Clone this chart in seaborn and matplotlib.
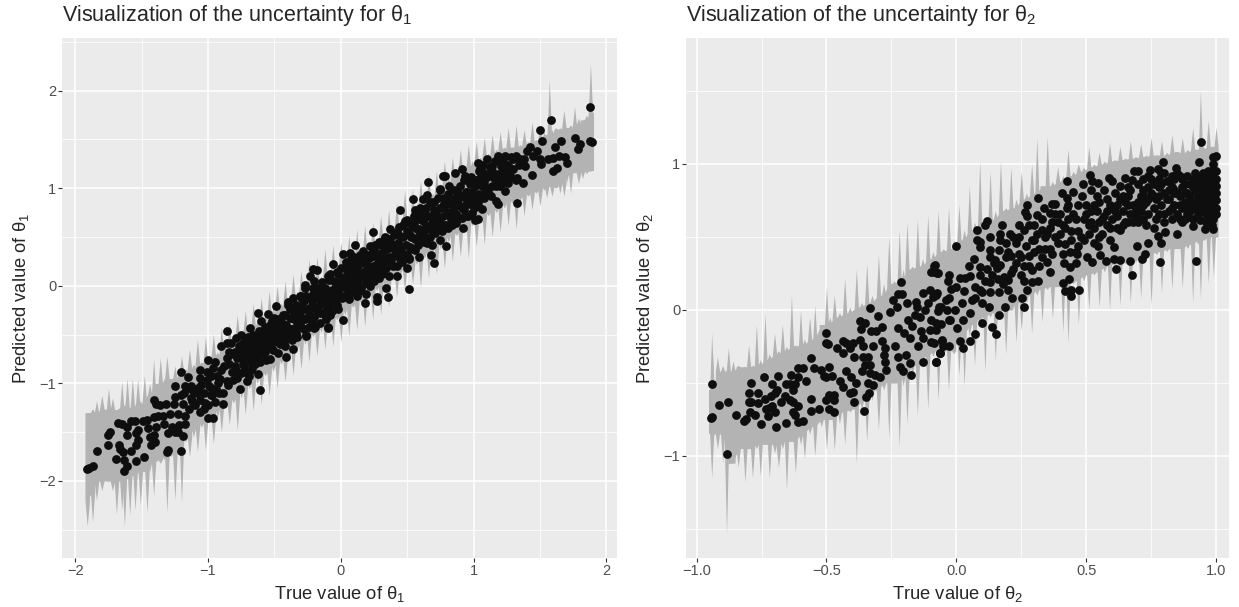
import matplotlib
matplotlib.use("Agg")
import matplotlib.pyplot as plt
import pandas as pd
import seaborn as sns
from matplotlib.ticker import FixedLocator

# ribbon rows for theta 1: true value, lower, upper
t1_ribbon = [
    (-1.91, -2.46, -1.30), (-1.87, -2.42, -1.26), (-1.84, -2.20, -1.18), (-1.80, -2.10, -1.12), (-1.75, -2.00, -1.05),
    (-1.72, -2.10, -1.15), (-1.69, -2.34, -1.27), (-1.67, -2.00, -1.25), (-1.65, -2.30, -0.98), (-1.63, -2.47, -1.22),
    (-1.61, -1.98, -0.95), (-1.59, -2.35, -1.25), (-1.57, -1.95, -0.95), (-1.55, -2.30, -1.22), (-1.53, -1.92, -0.96),
    (-1.51, -2.25, -1.18), (-1.48, -1.90, -0.92), (-1.46, -2.32, -1.12), (-1.44, -1.90, -1.00), (-1.41, -2.15, -0.75),
    (-1.39, -1.80, -1.00), (-1.36, -1.82, -0.74), (-1.33, -1.78, -0.95), (-1.31, -2.32, -0.72), (-1.28, -1.75, -0.95),
    (-1.25, -2.20, -0.82), (-1.22, -1.72, -0.88), (-1.20, -2.22, -0.72), (-1.17, -1.60, -0.85), (-1.14, -1.75, -0.65),
    (-1.11, -1.55, -0.80), (-1.08, -1.70, -0.55), (-1.05, -1.45, -0.78), (-1.02, -1.68, -0.52), (-0.99, -1.40, -0.72),
    (-0.96, -1.62, -0.50), (-0.93, -1.35, -0.68), (-0.90, -1.50, -0.42), (-0.87, -1.25, -0.60), (-0.84, -1.42, -0.38),
    (-0.81, -1.20, -0.52), (-0.78, -1.48, -0.30), (-0.75, -1.15, -0.48), (-0.72, -1.32, -0.25), (-0.69, -1.05, -0.42),
    (-0.66, -1.28, -0.18), (-0.63, -1.00, -0.36), (-0.60, -1.22, -0.12), (-0.57, -0.92, -0.30), (-0.54, -1.12, -0.05),
    (-0.51, -0.88, -0.22), (-0.48, -1.05, 0.00), (-0.45, -0.80, -0.18), (-0.42, -0.98, 0.05), (-0.39, -0.75, -0.12),
    (-0.36, -0.92, 0.12), (-0.33, -0.65, -0.06), (-0.30, -0.85, 0.15), (-0.27, -0.60, 0.00), (-0.24, -0.78, 0.28),
    (-0.21, -0.52, 0.05), (-0.18, -0.72, 0.30), (-0.15, -0.48, 0.10), (-0.12, -0.65, 0.38), (-0.09, -0.40, 0.15),
    (-0.06, -0.62, 0.42), (-0.03, -0.35, 0.22), (0.00, -0.58, 0.45), (0.03, -0.30, 0.25), (0.06, -0.52, 0.52),
    (0.09, -0.22, 0.30), (0.12, -0.45, 0.58), (0.15, -0.18, 0.35), (0.18, -0.42, 0.62), (0.21, -0.12, 0.42),
    (0.24, -0.35, 0.65), (0.27, -0.05, 0.48), (0.30, -0.30, 0.72), (0.33, 0.00, 0.52), (0.36, -0.22, 0.78),
    (0.39, 0.05, 0.60), (0.42, -0.12, 0.85), (0.45, 0.12, 0.68), (0.48, -0.05, 0.98), (0.51, 0.18, 0.72),
    (0.54, 0.02, 1.00), (0.57, 0.22, 0.85), (0.60, -0.02, 1.08), (0.63, 0.28, 0.90), (0.66, 0.08, 1.15),
    (0.69, 0.35, 0.95), (0.72, 0.12, 1.18), (0.75, 0.38, 1.05), (0.78, 0.18, 1.28), (0.81, 0.45, 1.10),
    (0.84, 0.25, 1.32), (0.87, 0.52, 1.18), (0.90, 0.30, 1.40), (0.93, 0.55, 1.22), (0.96, 0.28, 1.45),
    (0.99, 0.62, 1.28), (1.02, 0.40, 1.48), (1.05, 0.65, 1.32), (1.08, 0.42, 1.52), (1.11, 0.72, 1.36),
    (1.14, 0.50, 1.55), (1.17, 0.75, 1.40), (1.20, 0.55, 1.58), (1.23, 0.80, 1.42), (1.26, 0.62, 1.62),
    (1.29, 0.85, 1.42), (1.32, 0.58, 1.65), (1.35, 0.88, 1.45), (1.38, 0.72, 1.60), (1.41, 0.92, 1.48),
    (1.44, 0.78, 1.68), (1.47, 0.95, 1.50), (1.50, 0.82, 1.62), (1.53, 0.98, 1.58), (1.55, 0.90, 1.55),
    (1.57, 1.02, 2.11), (1.59, 0.92, 1.60), (1.62, 1.00, 1.62), (1.65, 0.95, 1.62), (1.68, 0.92, 1.80),
    (1.70, 1.06, 1.62), (1.73, 0.95, 1.65), (1.76, 1.16, 1.84), (1.79, 1.05, 1.72), (1.82, 1.10, 1.70),
    (1.85, 1.15, 1.75), (1.87, 1.18, 1.77), (1.88, 1.18, 2.28), (1.89, 1.18, 1.77),
]

# points for theta 1, lower tail
t1_low = [
    (-1.91, -1.88), (-1.90, -1.87), (-1.87, -1.85), (-1.84, -1.69), (-1.75, -1.63), (-1.75, -1.53), (-1.74, -1.50),
    (-1.68, -1.41), (-1.69, -1.78), (-1.67, -1.63), (-1.66, -1.67), (-1.64, -1.70), (-1.63, -1.79), (-1.61, -1.85),
    (-1.63, -1.90), (-1.65, -1.42), (-1.61, -1.45), (-1.61, -1.53), (-1.58, -1.39), (-1.55, -1.39), (-1.58, -1.69),
    (-1.54, -1.80), (-1.54, -1.63), (-1.53, -1.58), (-1.54, -1.51), (-1.53, -1.48), (-1.48, -1.75), (-1.49, -1.39),
    (-1.46, -1.38), (-1.45, -1.46), (-1.44, -1.55), (-1.43, -1.63), (-1.40, -1.60), (-1.41, -1.53), (-1.39, -1.45),
    (-1.41, -1.34), (-1.38, -1.33), (-1.41, -1.17), (-1.36, -1.22), (-1.32, -1.21), (-1.39, -1.21), (-1.31, -1.70),
    (-1.30, -1.68), (-1.20, -1.69), (-1.30, -1.51), (-1.25, -1.50), (-1.23, -1.50), (-1.19, -1.54), (-1.34, -1.33),
    (-1.29, -1.31), (-1.225, -1.31), (-1.175, -1.33), (-1.33, -1.42), (-1.27, -1.45), (-1.22, -1.43), (-1.17, -1.42),
    (-1.00, -1.36), (-0.96, -1.36), (-1.00, -0.76), (-0.95, -0.78), (-1.06, -0.86), (-0.90, -0.86), (-0.96, -0.845),
    (-1.20, -0.88), (-1.01, -0.965), (-1.06, -0.95), (-1.15, -0.93), (-1.25, -1.03), (-1.175, -1.03), (-1.125, -1.03),
    (-1.075, -1.05), (-0.99, -1.03), (-0.925, -1.00), (-0.86, -0.98), (-0.89, -1.10), (-1.25, -1.14), (-1.20, -1.12),
    (-1.125, -1.15), (-1.06, -1.17), (-1.26, -1.21), (-1.19, -1.21), (-1.10, -1.22), (-1.06, -1.29), (-1.00, -1.22),
    (-0.95, -1.19), (-0.89, -1.21), (-1.15, -1.05), (-1.12, -1.18), (-1.03, -1.10), (-0.97, -1.12), (-0.93, -0.92),
    (-0.98, -1.05), (-1.02, -1.20), (-0.92, -1.10),
]

# points for theta 1, below zero
t1_mid_neg = [
    (-0.857, -0.46), (-0.624, -0.28), (-0.55, -0.29), (-0.49, -0.21), (-0.787, -0.54), (-0.75, -0.50), (-0.687, -0.43),
    (-0.90, -0.62), (-0.86, -0.59), (-0.825, -0.59), (-0.80, -0.675), (-0.74, -0.59), (-0.65, -0.555), (-0.60, -0.365),
    (-0.51, -0.42), (-0.435, -0.30), (-0.61, -1.07), (-0.76, -1.06), (-0.71, -0.98), (-0.625, -0.90), (-0.535, -0.75),
    (-0.41, -0.725), (-0.36, -0.65), (-0.47, -0.685), (-0.26, -0.50), (-0.10, -0.435), (-0.20, -0.435), (-0.75, -0.89),
    (-0.81, -0.965), (-0.675, -0.86), (-0.64, -0.73), (-0.56, -0.62), (-0.45, -0.54), (-0.34, -0.485), (-0.84, -0.80),
    (-0.78, -0.74), (-0.72, -0.70), (-0.68, -0.78), (-0.62, -0.66), (-0.58, -0.50), (-0.52, -0.52), (-0.46, -0.60),
    (-0.40, -0.48), (-0.38, -0.33), (-0.33, -0.40), (-0.30, -0.22), (-0.28, -0.44), (-0.24, -0.30), (-0.22, -0.15),
    (-0.18, -0.26), (-0.16, -0.05), (-0.14, -0.18), (-0.12, -0.30), (-0.08, -0.06), (-0.05, -0.15), (-0.03, 0.02),
    (-0.30, -0.10), (-0.27, -0.02), (-0.23, -0.13), (-0.20, 0.05), (-0.17, -0.22), (-0.13, -0.06), (-0.10, 0.10),
    (-0.07, -0.14), (-0.04, 0.02), (-0.02, 0.12), (0.00, 0.05), (-0.44, -0.38), (-0.40, -0.20), (-0.36, -0.12),
    (-0.32, -0.30), (-0.28, -0.16), (-0.25, -0.33), (-0.21, -0.08), (-0.18, -0.22), (-0.15, -0.12), (-0.11, -0.25),
    (-0.07, -0.04), (-0.06, 0.22), (-0.21, 0.17), (-0.18, 0.16), (-0.27, 0.01), (-0.235, 0.10), (-0.26, -0.515),
    (-0.195, -0.42), (-0.095, -0.425), (-0.70, -0.52), (-0.66, -0.72), (-0.60, -0.48), (-0.55, -0.58), (-0.50, -0.33),
    (-0.44, -0.52), (-0.40, -0.17), (-0.35, -0.27), (-0.31, -0.10), (-0.98, -1.12), (-0.92, -0.96), (-0.86, -0.74),
    (-0.82, -0.88), (-0.77, -0.62), (-0.73, -0.82), (-0.69, -0.54), (-0.65, -0.64), (-0.58, -0.66), (-0.53, -0.40),
    (-0.48, -0.36), (-0.43, -0.44), (-0.37, -0.56), (-0.31, -0.38), (-0.26, -0.24), (-0.22, -0.36), (-0.16, -0.38),
    (-0.12, -0.12), (-0.08, -0.30), (-0.03, -0.20), (-0.02, -0.08),
]

# points for theta 1, above zero
t1_mid_pos = [
    (0.02, 0.33), (0.01, -0.12), (0.03, 0.18), (0.05, -0.03), (0.07, 0.22), (0.09, 0.00), (0.11, 0.25), (0.13, 0.05),
    (0.15, 0.28), (0.17, 0.10), (0.19, 0.03), (0.21, 0.32), (0.23, 0.14), (0.25, 0.38), (0.27, 0.20), (0.29, 0.45),
    (0.31, 0.22), (0.33, 0.40), (0.35, 0.25), (0.02, -0.35), (0.04, 0.06), (0.06, -0.08), (0.08, 0.28), (0.10, 0.02),
    (0.12, 0.16), (0.14, -0.05), (0.16, 0.12), (0.18, 0.32), (0.20, 0.05), (0.22, 0.18), (0.24, 0.36), (0.26, 0.10),
    (0.28, 0.24), (0.30, 0.42), (0.32, 0.15), (0.34, 0.30), (0.36, 0.48), (0.38, 0.26), (0.40, 0.38), (0.105, 0.42),
    (0.245, 0.55), (0.37, 0.58), (0.445, 0.78), (0.495, 0.67), (0.62, 0.89), (0.54, 0.89), (0.66, 1.065), (0.745, 0.99),
    (0.815, 1.02), (0.85, 0.98), (0.18, -0.18), (0.27, -0.11), (0.275, -0.16), (0.355, -0.115), (0.34, -0.02),
    (0.515, -0.035), (0.42, 0.10), (0.445, 0.27), (0.495, 0.18), (0.515, 0.27), (0.705, 0.23), (0.68, 0.32),
    (0.685, 0.42), (0.745, 0.47), (0.795, 0.41), (0.59, 0.30), (0.56, 0.37), (0.57, 0.58), (0.62, 0.51), (0.66, 0.61),
    (0.445, 0.51), (0.42, 0.405), (0.32, 0.457), (0.22, 0.405), (0.295, 0.27), (0.195, 0.20), (0.145, 0.32),
    (0.07, 0.34), (0.42, 0.55), (0.47, 0.62), (0.52, 0.40), (0.58, 0.68), (0.63, 0.45), (0.68, 0.72), (0.73, 0.58),
    (0.78, 0.90), (0.83, 0.68), (0.88, 0.95), (0.93, 0.78), (0.98, 1.05), (0.50, 0.33), (0.55, 0.72), (0.60, 0.56),
    (0.65, 0.93), (0.70, 0.66), (0.75, 0.98), (0.80, 0.90),
]

# points for theta 1, filling the dense band along the diagonal
t1_core = [
    (-0.72, -0.62), (-0.70, -0.76), (-0.68, -0.60), (-0.66, -0.50), (-0.65, -0.80), (-0.63, -0.60), (-0.62, -0.46),
    (-0.60, -0.70), (-0.59, -0.56), (-0.57, -0.42), (-0.56, -0.76), (-0.55, -0.50), (-0.53, -0.62), (-0.52, -0.36),
    (-0.50, -0.58), (-0.49, -0.46), (-0.47, -0.34), (-0.46, -0.50), (-0.45, -0.42), (-0.43, -0.58), (-0.42, -0.30),
    (-0.41, -0.40), (-0.39, -0.52), (-0.38, -0.24), (-0.37, -0.44), (-0.35, -0.34), (-0.34, -0.20), (-0.33, -0.52),
    (-0.31, -0.28), (-0.30, -0.42), (-0.29, -0.14), (-0.27, -0.34), (-0.26, -0.10), (-0.25, -0.24), (-0.24, -0.42),
    (-0.22, -0.20), (-0.21, -0.02), (-0.20, -0.32), (-0.19, -0.12), (-0.17, -0.02), (-0.16, -0.28), (-0.15, -0.18),
    (-0.14, 0.04), (-0.13, -0.14), (-0.12, -0.02), (-0.11, -0.34), (-0.10, -0.10), (-0.09, 0.06), (-0.09, -0.20),
    (-0.08, 0.12), (-0.07, -0.26), (-0.06, -0.06), (-0.05, 0.05), (-0.04, -0.14), (-0.03, 0.14), (-0.02, -0.24),
    (-0.01, -0.02), (0.00, 0.18), (0.01, 0.08), (0.02, -0.10), (0.03, 0.02), (0.04, 0.24), (0.05, 0.12), (0.06, -0.14),
    (0.07, 0.06), (0.08, 0.16), (0.09, -0.05), (0.10, 0.30), (0.11, 0.10), (0.12, -0.10), (0.13, 0.20), (0.14, 0.10),
    (0.15, -0.02), (0.16, 0.24), (0.17, 0.36), (0.18, 0.15), (0.19, -0.08), (0.20, 0.26), (0.21, 0.10), (0.22, 0.00),
    (0.23, 0.30), (0.24, 0.20), (0.25, 0.05), (0.26, 0.42), (0.27, 0.14), (0.28, 0.30), (0.29, 0.08), (0.30, 0.34),
    (0.31, 0.12), (0.32, 0.26), (0.33, 0.50), (0.34, 0.18), (0.35, 0.38), (0.36, 0.10), (0.37, 0.30), (0.38, 0.44),
    (0.39, 0.20), (0.40, 0.52), (0.41, 0.32), (0.42, 0.20), (0.43, 0.44), (0.44, 0.60), (0.45, 0.36), (0.46, 0.24),
    (0.47, 0.50), (0.48, 0.66), (0.49, 0.42), (0.50, 0.56), (0.51, 0.28), (0.52, 0.64), (0.53, 0.50), (0.54, 0.38),
    (0.55, 0.62), (0.56, 0.48), (0.57, 0.70), (0.58, 0.42), (0.59, 0.58), (0.60, 0.76), (0.61, 0.50), (0.62, 0.66),
    (0.63, 0.56), (0.64, 0.80), (0.65, 0.44), (0.66, 0.72), (0.67, 0.58), (0.68, 0.86), (0.69, 0.64), (0.70, 0.78),
    (0.71, 0.54), (0.72, 0.72), (0.73, 0.90), (0.74, 0.62), (0.75, 0.80), (0.76, 0.56), (0.77, 0.72), (0.78, 0.84),
    (0.79, 0.62), (0.80, 0.76), (0.81, 0.94), (0.82, 0.72), (0.83, 0.84), (0.84, 0.62), (0.85, 0.76), (0.86, 0.90),
    (0.87, 0.74), (0.88, 0.84), (0.89, 0.70), (0.90, 1.02), (0.91, 0.80), (0.92, 0.92), (0.93, 1.08), (0.94, 0.84),
    (0.95, 0.96), (0.96, 0.72), (0.97, 0.88), (0.98, 1.12), (0.99, 0.96), (1.00, 0.80), (1.02, 1.08), (1.03, 0.94),
    (1.04, 1.18), (1.06, 1.02), (1.07, 1.24), (1.08, 0.90), (1.10, 1.12), (1.12, 1.22), (1.14, 1.02), (1.16, 1.28),
    (1.18, 1.15), (1.20, 1.02), (1.22, 1.28), (1.24, 1.12), (1.26, 1.24), (1.28, 1.32), (1.30, 1.20), (1.32, 1.08),
    (-1.18, -1.10), (-1.14, -1.26), (-1.11, -1.08), (-1.08, -1.10), (-1.05, -1.02), (-1.03, -1.26), (-1.01, -0.88),
    (-0.98, -0.92), (-0.94, -1.06), (-0.91, -0.96), (-0.88, -0.82), (-0.85, -1.02), (-0.83, -0.70), (-0.80, -0.82),
    (-0.78, -0.95), (-0.76, -0.68), (-0.74, -0.80), (-0.71, -0.56), (-0.69, -0.92), (-0.67, -0.68),
    (-0.84, -0.68), (-0.79, -0.86), (-0.75, -0.74), (-0.72, -0.88), (-0.70, -0.64), (-0.67, -0.84), (-0.64, -0.54),
    (-0.61, -0.78), (-0.60, -0.60), (-0.57, -0.68), (-0.54, -0.46), (-0.51, -0.66), (-0.48, -0.52), (-0.44, -0.46),
    (-0.42, -0.62), (-0.38, -0.44), (-0.35, -0.50), (-0.33, -0.28), (-0.29, -0.34), (-0.23, -0.24), (0.44, 0.42),
    (0.48, 0.30), (0.52, 0.52), (0.54, 0.60), (0.58, 0.50), (0.61, 0.72), (0.64, 0.62), (0.67, 0.50), (0.70, 0.86),
    (0.72, 0.60), (0.75, 0.70), (0.78, 0.62), (0.80, 0.84), (0.83, 0.76), (0.86, 0.82), (0.89, 0.90), (0.91, 0.70),
    (0.94, 0.96), (0.96, 0.84), (0.99, 0.86), (1.01, 1.02), (1.03, 0.82), (1.05, 1.10), (1.08, 1.06), (1.11, 0.96),
    (1.14, 1.18), (1.17, 1.02), (1.20, 1.14), (1.23, 1.06), (1.27, 1.18), (1.30, 1.30), (1.35, 1.30), (1.38, 1.30),
]

# points for theta 1, upper tail
t1_high = [
    (0.85, 0.85), (0.77, 0.82), (0.72, 0.77), (0.67, 0.85), (0.595, 0.80), (0.56, 0.78), (0.645, 0.715), (0.70, 0.645),
    (0.985, 0.75), (0.94, 0.715), (0.92, 0.59), (0.87, 0.645), (0.81, 0.595), (0.91, 1.20), (0.86, 1.16), (0.785, 1.13),
    (0.77, 1.13), (0.935, 1.13), (0.97, 1.04), (0.90, 0.92), (0.95, 0.885), (1.00, 0.92), (1.10, 1.30), (1.035, 1.26),
    (1.135, 1.23), (1.12, 1.14), (1.07, 1.06), (1.06, 0.94), (1.065, 0.79), (1.035, 0.68), (1.01, 0.67), (1.235, 1.33),
    (1.185, 1.33), (1.21, 1.23), (1.22, 1.18), (1.26, 1.05), (1.235, 0.97), (1.185, 0.835), (1.17, 0.87), (1.32, 1.33),
    (1.33, 1.11), (1.375, 1.05), (1.325, 0.845), (1.425, 1.42), (1.40, 1.385), (1.475, 1.385), (1.45, 1.33),
    (1.50, 1.30), (1.51, 1.25), (1.44, 1.14), (1.39, 1.23), (1.34, 1.24), (1.69, 1.32), (1.64, 1.33), (1.60, 1.31),
    (1.56, 1.30), (1.70, 1.26), (1.60, 1.18), (1.625, 1.21), (1.80, 1.45), (1.79, 1.40), (1.88, 1.48), (1.89, 1.47),
    (1.61, 1.42), (1.655, 1.48), (1.76, 1.52), (1.515, 1.48), (1.50, 1.60), (1.58, 1.70), (1.88, 1.83), (1.05, 1.20),
    (1.10, 1.00), (1.15, 1.10), (1.20, 1.27), (1.28, 1.12), (1.03, 0.86), (1.08, 1.16), (1.13, 0.92), (1.18, 1.06),
]

# ribbon rows for theta 2: true value, lower, upper
t2_ribbon = [
    (-0.945, -0.85, -0.55), (-0.942, -1.15, -0.155), (-0.94, -0.85, -0.25), (-0.92, -0.95, -0.32), (-0.90, -1.05, -0.38),
    (-0.885, -1.53, -0.42), (-0.878, -1.05, -0.26), (-0.86, -1.05, -0.35), (-0.84, -1.08, -0.38), (-0.814, -1.18, -0.39),
    (-0.80, -0.95, -0.24), (-0.785, -1.15, -0.38), (-0.77, -0.95, -0.10), (-0.755, -1.14, -0.34), (-0.737, -0.92, -0.03),
    (-0.72, -1.15, -0.30), (-0.70, -0.98, -0.16), (-0.685, -1.08, -0.28), (-0.67, -0.95, -0.10), (-0.654, -1.23, -0.25),
    (-0.635, -0.90, 0.10), (-0.62, -1.12, -0.24), (-0.60, -0.92, 0.00), (-0.585, -1.02, -0.20), (-0.565, -0.85, -0.05),
    (-0.545, -1.00, 0.03), (-0.52, -0.80, -0.10), (-0.50, -0.96, 0.16), (-0.487, -0.75, -0.05), (-0.47, -0.96, 0.10),
    (-0.45, -0.78, -0.02), (-0.43, -0.92, 0.22), (-0.41, -0.70, 0.02), (-0.385, -1.05, 0.28), (-0.365, -0.68, 0.05),
    (-0.345, -0.90, 0.32), (-0.325, -0.62, 0.10), (-0.30, -0.82, 0.38), (-0.28, -0.55, 0.18), (-0.26, -0.88, 0.50),
    (-0.24, -0.50, 0.20), (-0.22, -0.94, 0.55), (-0.205, -0.52, 0.28), (-0.19, -0.78, 0.60), (-0.17, -0.45, 0.30),
    (-0.15, -0.72, 0.62), (-0.13, -0.38, 0.35), (-0.11, -0.68, 0.65), (-0.09, -0.32, 0.40), (-0.07, -0.62, 0.68),
    (-0.05, -0.28, 0.42), (-0.03, -0.55, 0.70), (-0.01, -0.30, 0.48), (0.01, -0.45, 0.72), (0.03, -0.52, 0.55),
    (0.05, -0.18, 0.85), (0.07, -0.38, 0.60), (0.09, -0.10, 1.02), (0.11, -0.42, 0.62), (0.13, -0.05, 0.95),
    (0.15, -0.35, 0.68), (0.17, -0.02, 1.02), (0.19, -0.30, 0.70), (0.21, 0.00, 0.98), (0.23, -0.22, 0.76),
    (0.25, -0.14, 0.95), (0.27, 0.05, 0.80), (0.29, -0.16, 1.00), (0.31, 0.10, 1.18), (0.33, -0.08, 0.85),
    (0.35, 0.14, 1.19), (0.37, -0.06, 0.88), (0.39, 0.16, 0.98), (0.41, -0.15, 0.92), (0.43, -0.23, 1.10),
    (0.45, 0.18, 0.95), (0.47, -0.10, 1.00), (0.49, 0.20, 0.98), (0.51, 0.00, 1.12), (0.53, 0.24, 1.00),
    (0.55, 0.02, 1.08), (0.57, 0.26, 1.02), (0.59, 0.00, 1.15), (0.61, 0.30, 1.03), (0.63, 0.03, 1.12),
    (0.65, 0.32, 1.04), (0.67, 0.05, 1.16), (0.69, 0.33, 1.05), (0.71, 0.08, 1.14), (0.73, 0.35, 1.06),
    (0.75, 0.03, 1.18), (0.77, 0.38, 1.06), (0.79, 0.12, 1.16), (0.81, 0.40, 1.08), (0.83, 0.14, 1.20),
    (0.85, 0.42, 1.08), (0.87, 0.15, 1.18), (0.89, 0.42, 1.10), (0.91, 0.05, 1.25), (0.93, 0.45, 1.10),
    (0.94, 0.08, 1.50), (0.95, 0.48, 1.12), (0.97, 0.18, 1.30), (0.99, 0.23, 1.12), (1.00, 0.50, 1.25),
]

# points for theta 2, lower part
t2_low = [
    (-0.94, -0.51), (-0.945, -0.74), (-0.94, -0.735), (-0.914, -0.65), (-0.88, -0.63), (-0.885, -0.99), (-0.85, -0.72),
    (-0.817, -0.76), (-0.81, -0.75), (-0.80, -0.57), (-0.80, -0.63), (-0.79, -0.50), (-0.79, -0.63), (-0.795, -0.70),
    (-0.776, -0.72), (-0.764, -0.57), (-0.763, -0.64), (-0.753, -0.78), (-0.74, -0.46), (-0.737, -0.61), (-0.733, -0.68),
    (-0.724, -0.73), (-0.71, -0.51), (-0.715, -0.59), (-0.70, -0.57), (-0.69, -0.55), (-0.72, -0.67), (-0.71, -0.66),
    (-0.70, -0.70), (-0.696, -0.80), (-0.688, -0.45), (-0.677, -0.63), (-0.66, -0.59), (-0.654, -0.51), (-0.635, -0.445),
    (-0.654, -0.776), (-0.64, -0.62), (-0.63, -0.63), (-0.628, -0.70), (-0.62, -0.72), (-0.61, -0.765), (-0.59, -0.76),
    (-0.64, -0.51), (-0.62, -0.51), (-0.63, -0.55), (-0.61, -0.46), (-0.61, -0.40), (-0.59, -0.40), (-0.58, -0.49),
    (-0.56, -0.33), (-0.55, -0.40), (-0.61, -0.66), (-0.56, -0.61), (-0.56, -0.69), (-0.53, -0.68), (-0.50, -0.16),
    (-0.52, -0.41), (-0.51, -0.45), (-0.49, -0.39), (-0.50, -0.62), (-0.47, -0.62), (-0.49, -0.68), (-0.47, -0.70),
    (-0.49, -0.58), (-0.47, -0.58), (-0.50, -0.46), (-0.48, -0.45), (-0.50, -0.23), (-0.495, -0.235), (-0.46, -0.26),
]

# points for theta 2, around -0.4 to 0
t2_mid_neg = [
    (-0.436, -0.21), (-0.423, -0.228), (-0.397, -0.228), (-0.372, -0.205), (-0.36, -0.247), (-0.408, -0.263),
    (-0.438, -0.297), (-0.395, -0.32), (-0.36, -0.32), (-0.34, -0.32), (-0.353, -0.377), (-0.333, -0.377),
    (-0.365, -0.422), (-0.333, -0.434), (-0.423, -0.416), (-0.404, -0.457), (-0.449, -0.49), (-0.436, -0.525),
    (-0.41, -0.57), (-0.397, -0.56), (-0.395, -0.632), (-0.356, -0.69), (-0.346, -0.594), (-0.336, -0.57),
    (-0.32, -0.514), (-0.34, -0.502), (-0.385, -0.502), (-0.295, -0.457), (-0.314, -0.445), (-0.333, 0.01),
    (-0.372, -0.075), (-0.35, -0.087), (-0.368, -0.13), (-0.30, -0.045), (-0.288, -0.114), (-0.327, -0.148),
    (-0.308, -0.144), (-0.285, -0.21), (-0.32, -0.247), (-0.237, -0.25), (-0.276, -0.263), (-0.28, -0.308),
    (-0.276, -0.354), (-0.27, -0.41), (-0.173, -0.445), (-0.205, -0.422), (-0.218, -0.388), (-0.224, -0.32),
    (-0.192, -0.308), (-0.177, -0.365), (-0.13, -0.358), (-0.08, -0.358), (-0.064, -0.297), (-0.05, -0.25),
    (-0.224, -0.126), (-0.20, -0.16), (-0.18, -0.194), (-0.186, -0.07), (-0.16, -0.034), (-0.154, 0.057),
    (-0.128, 0.114), (-0.103, 0.137), (-0.077, 0.103), (-0.122, 0.0), (-0.096, -0.068), (-0.07, -0.011),
    (-0.135, -0.148), (-0.147, -0.25), (-0.128, -0.194), (-0.096, -0.217), (-0.077, -0.137), (-0.04, 0.068),
    (-0.03, -0.068), (-0.057, -0.205), (-0.087, 0.30), (-0.096, 0.26), (-0.074, 0.25), (-0.214, 0.19), (-0.224, 0.11),
    (-0.208, 0.11), (-0.256, -0.014), (-0.244, 0.07), (-0.23, 0.02), (-0.19, 0.045), (-0.15, 0.02), (-0.11, 0.05),
    (-0.06, 0.02), (-0.09, 0.09), (-0.17, -0.11), (-0.14, -0.05), (-0.10, -0.14), (-0.06, -0.10),
]

# points for theta 2, 0 to 0.3
t2_mid_pos = [
    (0.0, 0.436), (0.08, 0.477), (0.092, 0.466), (0.092, 0.43), (0.067, 0.352), (0.13, 0.41), (0.13, 0.364),
    (0.144, 0.318), (0.156, 0.29), (0.092, 0.295), (0.092, 0.24), (0.054, 0.23), (0.035, 0.216), (0.015, 0.216),
    (-0.03, 0.24), (-0.033, 0.20), (-0.083, 0.307), (-0.087, 0.26), (-0.072, 0.25), (0.137, 0.24), (0.13, 0.193),
    (0.182, 0.227), (0.20, 0.205), (0.073, 0.16), (0.092, 0.136), (0.13, 0.125), (0.163, 0.125), (0.20, 0.136),
    (0.214, 0.08), (0.252, 0.08), (0.272, 0.136), (0.29, 0.19), (0.313, 0.20), (0.262, 0.018), (0.188, 0.023),
    (0.165, -0.034), (0.124, 0.018), (0.06, 0.068), (0.10, 0.045), (0.054, -0.023), (0.10, -0.09), (0.137, -0.114),
    (0.154, -0.164), (0.073, -0.164), (0.054, -0.21), (0.026, -0.264), (0.015, -0.216), (0.026, -0.068), (-0.03, 0.08),
    (-0.004, 0.0), (-0.023, -0.068), (0.003, -0.125), (-0.036, 0.0), (-0.074, 0.114), (-0.068, 0.023), (-0.08, -0.09),
    (-0.087, -0.227), (-0.055, -0.216), (-0.03, -0.245), (-0.062, -0.295), (-0.078, -0.357), (0.12, 0.61), (0.11, 0.58),
    (0.08, 0.545), (0.174, 0.584), (0.24, 0.584), (0.26, 0.545), (0.28, 0.58), (0.208, 0.52), (0.22, 0.50), (0.17, 0.52),
    (0.13, 0.50), (0.17, 0.477), (0.163, 0.41), (0.265, 0.67), (0.272, 0.64), (0.31, 0.648), (0.272, 0.716),
    (0.20, 0.40), (0.23, 0.32), (0.27, 0.44), (0.31, 0.52), (0.25, 0.36), (0.29, 0.48), (0.22, 0.28), (0.19, 0.36),
    (0.30, 0.40), (0.33, 0.36), (0.23, 0.46), (0.26, 0.30), (0.28, 0.37), (0.32, 0.30), (0.35, 0.52), (0.35, 0.33),
    (0.17, 0.31), (0.21, 0.37), (0.25, 0.24), (0.29, 0.27), (0.12, 0.28), (0.16, 0.21), (0.24, 0.50), (0.33, 0.62),
    (0.05, 0.30), (0.03, 0.13), (0.00, 0.16), (0.02, 0.05), (-0.02, 0.14), (0.07, 0.08), (0.11, 0.20), (0.10, 0.12),
    (0.32, 0.42), (0.36, 0.56), (0.39, 0.46), (0.41, 0.58), (0.44, 0.54), (0.46, 0.40), (0.49, 0.48), (0.52, 0.60),
    (0.34, 0.50), (0.37, 0.38), (0.40, 0.66), (0.43, 0.72), (0.47, 0.54), (0.50, 0.66), (0.53, 0.56), (0.55, 0.50),
    (0.18, 0.18), (0.15, 0.34), (0.26, 0.20), (0.21, 0.25), (0.28, 0.30), (0.24, 0.38), (0.19, 0.46), (0.30, 0.58),
]

# points for theta 2, upper part
t2_high = [
    (0.41, 0.186), (0.42, 0.13), (0.442, 0.095), (0.472, 0.136), (0.432, 0.21), (0.44, 0.136), (0.615, 0.277),
    (0.678, 0.239), (0.785, 0.327), (0.923, 0.334), (0.67, 0.336), (0.63, 0.34), (0.608, 0.352), (0.608, 0.432),
    (0.576, 0.336), (0.554, 0.375), (0.522, 0.33), (0.503, 0.364), (0.46, 0.318), (0.438, 0.295), (0.413, 0.318),
    (0.362, 0.26), (0.464, 0.386), (0.438, 0.398), (0.547, 0.436), (0.714, 0.352), (0.727, 0.386), (0.695, 0.436),
    (0.79, 0.461), (0.74, 0.455), (0.778, 0.505), (0.849, 0.518), (0.804, 0.534), (0.913, 0.573), (0.958, 0.557),
    (0.99, 0.557), (0.983, 0.58), (0.964, 0.648), (0.99, 0.693), (0.894, 0.636), (0.938, 0.614), (0.36, 0.664),
    (0.38, 0.66), (0.336, 0.70), (0.313, 0.766), (0.38, 0.727), (0.368, 0.723), (0.428, 0.70), (0.406, 0.80),
    (0.426, 0.77), (0.45, 0.807), (0.483, 0.777), (0.52, 0.82), (0.487, 0.86), (0.427, 0.88), (0.524, 0.88),
    (0.545, 0.87), (0.513, 0.927), (0.586, 0.905), (0.60, 0.88), (0.65, 0.905), (0.676, 0.89), (0.70, 0.955),
    (0.685, 0.955), (0.746, 0.96), (0.778, 0.966), (0.794, 1.01), (0.846, 0.97), (0.936, 1.01), (0.99, 1.0),
    (1.0, 1.057), (0.987, 1.05), (0.944, 1.15), (0.30, 0.48), (0.33, 0.55), (0.36, 0.42), (0.39, 0.60), (0.42, 0.45),
    (0.45, 0.66), (0.48, 0.50), (0.51, 0.58), (0.54, 0.68), (0.34, 0.42), (0.38, 0.50), (0.42, 0.56), (0.46, 0.62),
    (0.50, 0.72), (0.54, 0.78), (0.58, 0.68), (0.47, 0.44), (0.51, 0.52), (0.55, 0.60), (0.59, 0.48), (0.63, 0.55),
    (0.56, 0.62), (0.60, 0.70), (0.64, 0.78), (0.68, 0.60), (0.72, 0.72), (0.76, 0.56), (0.80, 0.66), (0.84, 0.80),
    (0.88, 0.62), (0.92, 0.70), (0.96, 0.60), (0.58, 0.76), (0.62, 0.64), (0.66, 0.72), (0.70, 0.74), (0.74, 0.84),
    (0.78, 0.78), (0.82, 0.88), (0.86, 0.72), (0.90, 0.86), (0.94, 0.68), (0.98, 0.82), (0.62, 0.72), (0.66, 0.84),
    (0.70, 0.70), (0.74, 0.76), (0.78, 0.90), (0.82, 0.82), (0.86, 0.92), (0.90, 0.74), (0.94, 0.92), (0.97, 0.76),
    (0.72, 0.90), (0.76, 0.78), (0.80, 0.94), (0.84, 0.82), (0.88, 0.80), (0.92, 0.94), (0.96, 0.82), (1.0, 0.66),
    (1.0, 0.70), (1.0, 0.75), (1.0, 0.80), (1.0, 0.85), (1.0, 0.90), (1.0, 0.95), (0.99, 0.62), (0.98, 0.92),
    (0.97, 0.78), (0.95, 0.88), (0.93, 0.66), (0.91, 0.84), (0.89, 0.72), (0.87, 0.60), (0.85, 0.94), (0.83, 0.70),
    (0.81, 0.76), (0.79, 0.86), (0.77, 0.62), (0.75, 0.90), (0.73, 0.58), (0.71, 0.78), (0.69, 0.70), (0.67, 0.66),
    (0.65, 0.60), (0.63, 0.76), (0.97, 0.95), (0.95, 0.74), (0.91, 0.90), (0.87, 0.84), (0.83, 0.92),
]

# points for theta 2, filling the dense right end
t2_core = [
    (0.52, 0.68), (0.53, 0.46), (0.55, 0.74), (0.56, 0.52), (0.57, 0.82), (0.58, 0.58), (0.59, 0.72), (0.60, 0.62),
    (0.61, 0.80), (0.62, 0.56), (0.63, 0.85), (0.64, 0.68), (0.65, 0.74), (0.66, 0.60), (0.67, 0.82), (0.68, 0.72),
    (0.69, 0.64), (0.70, 0.86), (0.71, 0.68), (0.72, 0.62), (0.72, 0.82), (0.73, 0.74), (0.74, 0.66), (0.74, 0.92),
    (0.75, 0.80), (0.76, 0.70), (0.76, 0.86), (0.77, 0.76), (0.78, 0.66), (0.78, 0.84), (0.79, 0.72), (0.79, 0.94),
    (0.80, 0.60), (0.80, 0.80), (0.81, 0.88), (0.82, 0.68), (0.82, 0.76), (0.83, 0.84), (0.83, 0.62), (0.84, 0.72),
    (0.84, 0.90), (0.85, 0.66), (0.85, 0.80), (0.86, 0.78), (0.86, 0.62), (0.87, 0.70), (0.87, 0.90), (0.88, 0.74),
    (0.88, 0.86), (0.89, 0.66), (0.89, 0.80), (0.89, 0.92), (0.90, 0.68), (0.90, 0.78), (0.91, 0.62), (0.91, 0.74),
    (0.92, 0.82), (0.92, 0.88), (0.93, 0.72), (0.93, 0.78), (0.93, 0.90), (0.94, 0.76), (0.94, 0.84), (0.95, 0.68),
    (0.95, 0.80), (0.95, 0.94), (0.96, 0.72), (0.96, 0.86), (0.96, 0.66), (0.97, 0.70), (0.97, 0.84), (0.97, 0.90),
    (0.98, 0.66), (0.98, 0.74), (0.98, 0.88), (0.99, 0.72), (0.99, 0.78), (0.99, 0.84), (0.99, 0.90), (0.99, 0.96),
    (0.40, 0.52), (0.37, 0.60), (0.43, 0.62), (0.44, 0.48), (0.49, 0.62), (0.53, 0.72), (0.47, 0.72), (0.41, 0.38),
    (0.57, 0.64), (0.59, 0.56), (0.61, 0.68), (0.64, 0.58), (0.66, 0.78), (0.68, 0.66), (0.70, 0.60), (0.72, 0.78),
]

t1_points = t1_low + t1_mid_neg + t1_mid_pos + t1_core + t1_high
t2_points = t2_low + t2_mid_neg + t2_mid_pos + t2_high + t2_core

sns.set_theme(style="darkgrid", rc={"axes.facecolor": "#EBEBEB", "grid.color": "white"})
plt.rcParams["font.family"] = ["Liberation Sans", "DejaVu Sans"]
plt.rcParams["mathtext.fontset"] = "custom"
plt.rcParams["mathtext.rm"] = "Liberation Sans"
plt.rcParams["mathtext.it"] = "Liberation Sans"
plt.rcParams["mathtext.default"] = "regular"

fig = plt.figure(figsize=(12.39, 6.07), dpi=100)
W, H = 1239, 607


def draw_ribbon(ax, ribbon, half_width):
    rib = pd.DataFrame(ribbon, columns=["x", "lo", "hi"])
    # solid body is what stays between the spikes, then each spike on top as a thin wedge
    rib["base_lo"] = rib["lo"].rolling(5, center=True, min_periods=1).max()
    rib["base_hi"] = rib["hi"].rolling(5, center=True, min_periods=1).min()
    ax.fill_between(rib["x"], rib["base_lo"], rib["base_hi"], color="#B3B3B3", linewidth=0, zorder=2)
    for row in rib.itertuples():
        xs = [row.x - half_width, row.x, row.x + half_width]
        ax.fill_between(xs, [row.base_hi, row.hi, row.base_hi], [row.base_lo, row.lo, row.base_lo],
                        color="#B3B3B3", linewidth=0, zorder=2)


def draw_panel(box, ribbon, half_width, pts, name, xlim, ylim, xticks, yticks, xminor, yminor, xfmt):
    ax = fig.add_axes([box[0] / W, 1 - box[3] / H, (box[2] - box[0]) / W, (box[3] - box[1]) / H])
    draw_ribbon(ax, ribbon, half_width)
    points = pd.DataFrame(pts, columns=["true", "pred"])
    sns.scatterplot(data=points, x="true", y="pred", color="#0E0E0E", s=40, linewidth=0, ax=ax, zorder=3)
    ax.set_xlim(*xlim)
    ax.set_ylim(*ylim)
    ax.set_xticks(xticks)
    ax.set_xticklabels([xfmt.format(v).replace("-", "\u2212") for v in xticks])
    ax.set_yticks(yticks)
    ax.set_yticklabels([str(v).replace("-", "\u2212") for v in yticks])
    ax.xaxis.set_minor_locator(FixedLocator(xminor))
    ax.yaxis.set_minor_locator(FixedLocator(yminor))
    ax.grid(which="major", color="white", linewidth=1.1)
    ax.grid(which="minor", color="white", linewidth=0.55)
    ax.set_axisbelow(True)
    for spine in ax.spines.values():
        spine.set_visible(False)
    ax.tick_params(which="major", length=2.7, width=0.8, color="#333333", labelcolor="#4D4D4D", labelsize=10.5, pad=1.5,
                   bottom=True, left=True)
    ax.tick_params(which="minor", length=0)
    ax.set_xlabel(f"True value of $\\theta_{name}$", fontsize=13.2, labelpad=4.5)
    ax.set_ylabel(f"Predicted value of $\\theta_{name}$", fontsize=13.2, labelpad=6.5)
    ax.set_title(f"Visualization of the uncertainty for $\\theta_{name}$", loc="left", fontsize=15.5, pad=12.5)
    return ax


draw_panel((62, 38, 617, 558), t1_ribbon, 0.017, t1_points, "1",
           (-2.10, 2.08), (-2.79, 2.54), [-2, -1, 0, 1, 2], [-2, -1, 0, 1, 2],
           [-1.5, -0.5, 0.5, 1.5], [-2.5, -1.5, -0.5, 0.5, 1.5, 2.5], "{:d}")
draw_panel((686, 38, 1229, 558), t2_ribbon, 0.008, t2_points, "2",
           (-1.041, 1.05), (-1.70, 1.863), [-1.0, -0.5, 0.0, 0.5, 1.0], [-1, 0, 1],
           [-0.75, -0.25, 0.25, 0.75], [-1.5, -0.5, 0.5, 1.5], "{:.1f}")

fig.savefig("out.png", dpi=100)
